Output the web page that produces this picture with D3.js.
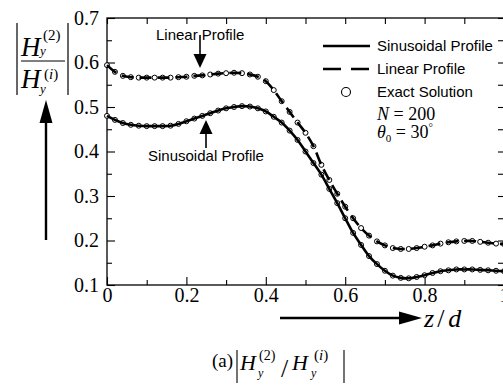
<!DOCTYPE html>
<html>
<head>
<meta charset="utf-8">
<script src="https://cdn.jsdelivr.net/npm/d3@7"></script>
<style>
  html, body { margin: 0; padding: 0; background: #fff; overflow: hidden; }
  svg { display: block; }
  .serif { font-family: "Liberation Serif", "Times New Roman", serif; }
  .sans { font-family: "Liberation Sans", Arial, sans-serif; }
</style>
</head>
<body>
<div id="chart"></div>
<script>
// z/d sample positions
const zd = [0.00, 0.02, 0.04, 0.06, 0.08, 0.10, 0.12, 0.14, 0.16, 0.18,
            0.20, 0.22, 0.24, 0.26, 0.28, 0.30, 0.32, 0.34, 0.36, 0.38,
            0.40, 0.42, 0.44, 0.46, 0.48, 0.50, 0.52, 0.54, 0.56, 0.58,
            0.60, 0.62, 0.64, 0.66, 0.68, 0.70, 0.72, 0.74, 0.76, 0.78,
            0.80, 0.82, 0.84, 0.86, 0.88, 0.90, 0.92, 0.94, 0.96, 0.98, 1.00];

// |Hy(2)/Hy(i)| for the sinusoidal profile
const sinusoidal = [0.480, 0.471, 0.464, 0.460, 0.458, 0.457, 0.457, 0.457, 0.458, 0.462,
                    0.468, 0.474, 0.480, 0.486, 0.492, 0.497, 0.500, 0.502, 0.501, 0.497,
                    0.490, 0.478, 0.465, 0.447, 0.426, 0.400, 0.374, 0.348, 0.316, 0.284,
                    0.250, 0.217, 0.190, 0.165, 0.147, 0.132, 0.121, 0.116, 0.115, 0.118,
                    0.122, 0.127, 0.131, 0.133, 0.135, 0.135, 0.135, 0.134, 0.133, 0.132, 0.131];

// |Hy(2)/Hy(i)| for the linear profile
const linear = [0.594, 0.579, 0.570, 0.567, 0.566, 0.566, 0.566, 0.566, 0.566, 0.567,
                0.568, 0.570, 0.571, 0.573, 0.575, 0.576, 0.577, 0.576, 0.573, 0.568,
                0.558, 0.538, 0.513, 0.489, 0.465, 0.442, 0.412, 0.370, 0.336, 0.305,
                0.276, 0.250, 0.228, 0.211, 0.198, 0.189, 0.183, 0.181, 0.181, 0.183,
                0.186, 0.189, 0.193, 0.196, 0.198, 0.199, 0.199, 0.197, 0.195, 0.193, 0.192];

const yTicks = [0.1, 0.2, 0.3, 0.4, 0.5, 0.6, 0.7];
const yMinor = [0.15, 0.25, 0.35, 0.45, 0.55, 0.65];
const xTicks = [0, 0.2, 0.4, 0.6, 0.8, 1];
const xTickLabels = ['0', '0.2', '0.4', '0.6', '0.8', '1'];
const xMinor = [0.1, 0.3, 0.5, 0.7, 0.9];
const legendItems = ['Sinusoidal Profile', 'Linear Profile', 'Exact Solution'];

const W = 503, H = 387;
const svg = d3.select('#chart').append('svg')
  .attr('width', W).attr('height', H);

const x = d3.scaleLinear().domain([0, 1]).range([107, 504]);
const y = d3.scaleLinear().domain([0.1, 0.7]).range([285, 18]);

const axisStyle = g => {
  g.select('.domain').remove();
  g.selectAll('.tick line').attr('stroke', '#000').attr('stroke-width', 1.1);
  g.selectAll('text').attr('class', 'serif').attr('fill', '#000')
    .style('font-size', '20px');
};

// left axis
svg.append('g').attr('transform', 'translate(107,0)')
  .call(d3.axisLeft(y).tickValues(yTicks).tickSizeInner(-8).tickSizeOuter(0)
    .tickPadding(8).tickFormat(d3.format('.1f')))
  .call(axisStyle);
svg.append('g').attr('transform', 'translate(107,0)')
  .call(d3.axisLeft(y).tickValues(yMinor).tickSizeInner(-5).tickSizeOuter(0).tickFormat(''))
  .call(axisStyle);

// right axis (ticks only)
svg.append('g').attr('transform', 'translate(504,0)')
  .call(d3.axisRight(y).tickValues(yTicks.concat(yMinor)).tickSizeInner(-6).tickSizeOuter(0).tickFormat(''))
  .call(axisStyle);

// bottom axis
svg.append('g').attr('transform', 'translate(0,285)')
  .call(d3.axisBottom(x).tickValues(xTicks).tickSizeInner(-8).tickSizeOuter(0)
    .tickPadding(3).tickFormat((d, i) => xTickLabels[i]))
  .call(axisStyle);
svg.append('g').attr('transform', 'translate(0,285)')
  .call(d3.axisBottom(x).tickValues(xMinor).tickSizeInner(-5).tickSizeOuter(0).tickFormat(''))
  .call(axisStyle);

// top axis (ticks only)
svg.append('g').attr('transform', 'translate(0,18)')
  .call(d3.axisTop(x).tickValues(xTicks.concat(xMinor)).tickSizeInner(-6).tickSizeOuter(0).tickFormat(''))
  .call(axisStyle);

// frame
svg.append('rect')
  .attr('x', x(0)).attr('y', y(0.7))
  .attr('width', x(1) - x(0)).attr('height', y(0.1) - y(0.7))
  .attr('fill', 'none').attr('stroke', '#000').attr('stroke-width', 1.3);

// series
const rowsSin = zd.map((z, i) => ({ z, v: sinusoidal[i] }));
const rowsLin = zd.map((z, i) => ({ z, v: linear[i] }));
const line = d3.line().x(d => x(d.z)).y(d => y(d.v)).curve(d3.curveCatmullRom);

// exact solution circles
[rowsLin, rowsSin].forEach(rows => {
  svg.append('g').selectAll('circle').data(rows).enter().append('circle')
    .attr('cx', d => x(d.z)).attr('cy', d => y(d.v)).attr('r', 2.5)
    .attr('fill', '#fff').attr('stroke', '#000').attr('stroke-width', 1);
});

svg.append('path').datum(rowsSin).attr('d', line)
  .attr('fill', 'none').attr('stroke', '#000').attr('stroke-width', 2.6);
svg.append('path').datum(rowsLin).attr('d', line)
  .attr('fill', 'none').attr('stroke', '#000').attr('stroke-width', 2.6)
  .attr('stroke-dasharray', '12,6');

// legend
const lg = svg.append('g');
const rowY = [46, 69, 92];
lg.append('line').attr('x1', 323).attr('x2', 370).attr('y1', rowY[0]).attr('y2', rowY[0])
  .attr('stroke', '#000').attr('stroke-width', 2.6);
lg.append('line').attr('x1', 323).attr('x2', 370).attr('y1', rowY[1]).attr('y2', rowY[1])
  .attr('stroke', '#000').attr('stroke-width', 2.6).attr('stroke-dasharray', '18,10');
lg.append('circle').attr('cx', 346).attr('cy', rowY[2]).attr('r', 4.5)
  .attr('fill', '#fff').attr('stroke', '#000').attr('stroke-width', 1.1);
legendItems.forEach((t, i) => {
  lg.append('text').attr('class', 'sans').attr('x', 377).attr('y', rowY[i] + 5)
    .style('font-size', '15px').text(t);
});
lg.append('text').attr('class', 'serif').attr('x', 377).attr('y', 120).style('font-size', '18px')
  .html('<tspan font-style="italic">N</tspan> = 200');
const th = lg.append('text').attr('class', 'serif').attr('x', 377).attr('y', 138).style('font-size', '18px');
th.append('tspan').attr('font-style', 'italic').text('θ');
th.append('tspan').attr('dy', 4).style('font-size', '11px').text('0');
th.append('tspan').attr('dy', -4).text(' = 30');
th.append('tspan').attr('dy', -7).style('font-size', '11px').text('°');

// annotations
const arrowHead = (cx, tipY, dir) => {
  const h = 14, w = 6.5;
  return `M${cx},${tipY} L${cx - w},${tipY - dir * h} L${cx + w},${tipY - dir * h} Z`;
};
svg.append('text').attr('class', 'sans').attr('x', 156).attr('y', 40)
  .style('font-size', '15px').text('Linear Profile');
svg.append('line').attr('x1', 200).attr('x2', 200).attr('y1', 35).attr('y2', 56)
  .attr('stroke', '#000').attr('stroke-width', 1.6);
svg.append('path').attr('d', arrowHead(200, 68, 1)).attr('fill', '#000');

svg.append('text').attr('class', 'sans').attr('x', 148).attr('y', 161)
  .style('font-size', '15px').text('Sinusoidal Profile');
svg.append('line').attr('x1', 206).attr('x2', 206).attr('y1', 148).attr('y2', 130)
  .attr('stroke', '#000').attr('stroke-width', 1.6);
svg.append('path').attr('d', arrowHead(206, 120, -1)).attr('fill', '#000');

// y axis title |Hy(2)/Hy(i)|
const yt = svg.append('g').attr('class', 'serif');
[17, 68].forEach(bx => yt.append('line').attr('x1', bx).attr('x2', bx).attr('y1', 23).attr('y2', 95)
  .attr('stroke', '#000').attr('stroke-width', 1.2));
yt.append('line').attr('x1', 21).attr('x2', 65).attr('y1', 61).attr('y2', 61)
  .attr('stroke', '#000').attr('stroke-width', 1.2);
yt.append('text').attr('x', 21).attr('y', 56).style('font-size', '27px').attr('font-style', 'italic').text('H');
yt.append('text').attr('x', 43).attr('y', 40).style('font-size', '15px').text('(2)');
yt.append('text').attr('x', 40).attr('y', 55).style('font-size', '13px').attr('font-style', 'italic').text('y');
yt.append('text').attr('x', 21).attr('y', 88).style('font-size', '27px').attr('font-style', 'italic').text('H');
const ti = yt.append('text').attr('x', 44).attr('y', 79).style('font-size', '15px');
ti.append('tspan').text('(');
ti.append('tspan').attr('font-style', 'italic').text('i');
ti.append('tspan').text(')');
yt.append('text').attr('x', 40).attr('y', 93).style('font-size', '13px').attr('font-style', 'italic').text('y');

// up arrow
svg.append('line').attr('x1', 46).attr('x2', 46).attr('y1', 240).attr('y2', 118)
  .attr('stroke', '#000').attr('stroke-width', 2.4);
svg.append('path').attr('d', 'M46,100 L39.5,123 L52.5,123 Z').attr('fill', '#000');

// right arrow + z/d
svg.append('line').attr('x1', 280).attr('x2', 405).attr('y1', 318).attr('y2', 318)
  .attr('stroke', '#000').attr('stroke-width', 2.4);
svg.append('path').attr('d', 'M422,318 L399,311.5 L399,324.5 Z').attr('fill', '#000');
const zt = svg.append('text').attr('class', 'serif').attr('x', 424).attr('y', 327)
  .style('font-size', '26px').attr('font-style', 'italic');
zt.append('tspan').text('z');
zt.append('tspan').attr('dx', 3).attr('font-style', 'normal').text('/');
zt.append('tspan').attr('dx', 4).text('d');

// caption (a)|Hy(2)/Hy(i)|
const cap = svg.append('g').attr('class', 'serif');
cap.append('text').attr('x', 212).attr('y', 367).style('font-size', '19px').text('(a)');
[237, 344].forEach(bx => cap.append('line').attr('x1', bx).attr('x2', bx).attr('y1', 350).attr('y2', 383)
  .attr('stroke', '#000').attr('stroke-width', 1.1));
cap.append('text').attr('x', 240).attr('y', 370).style('font-size', '22px').attr('font-style', 'italic').text('H');
cap.append('text').attr('x', 259).attr('y', 360).style('font-size', '14px').text('(2)');
cap.append('text').attr('x', 258).attr('y', 377).style('font-size', '12px').attr('font-style', 'italic').text('y');
cap.append('text').attr('x', 281).attr('y', 377).style('font-size', '26px').text('/');
cap.append('text').attr('x', 292).attr('y', 370).style('font-size', '22px').attr('font-style', 'italic').text('H');
const ci = cap.append('text').attr('x', 314).attr('y', 360).style('font-size', '15px');
ci.append('tspan').text('(');
ci.append('tspan').attr('font-style', 'italic').text('i');
ci.append('tspan').text(')');
cap.append('text').attr('x', 311).attr('y', 377).style('font-size', '12px').attr('font-style', 'italic').text('y');
</script>
</body>
</html>
